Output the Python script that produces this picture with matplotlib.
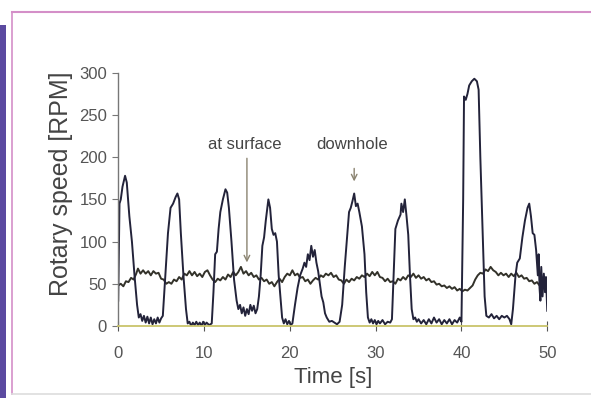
import matplotlib
matplotlib.use("Agg")
import matplotlib.pyplot as plt
from matplotlib.lines import Line2D
from matplotlib.patches import Rectangle

plt.rcParams["font.family"] = ["Liberation Sans", "DejaVu Sans"]

# downhole rotary speed (RPM)
t_down = [
    0.0, 0.15, 0.3, 0.5, 0.8, 1.0, 1.3, 1.6, 1.9, 2.2, 2.4, 2.6, 2.8, 3.0, 3.2,
    3.4, 3.6, 3.8, 4.0, 4.2, 4.4, 4.6, 4.8, 5.0, 5.2, 5.5, 5.8, 6.1, 6.4, 6.7,
    6.9, 7.1, 7.3, 7.6, 7.9, 8.1, 8.3, 8.5, 8.7, 8.9, 9.1, 9.3, 9.5, 9.7, 9.9,
    10.1, 10.3, 10.6, 10.9, 11.1, 11.3, 11.5, 11.7, 11.9, 12.2, 12.5, 12.7, 12.9,
    13.2, 13.5, 13.8, 14.0, 14.2, 14.4, 14.6, 14.8, 15.0, 15.2, 15.4, 15.6, 15.8,
    16.0, 16.2, 16.4, 16.6, 16.8, 17.0, 17.2, 17.5, 17.7, 17.9, 18.1, 18.3, 18.5,
    18.7, 18.9, 19.1, 19.3, 19.5, 19.7, 19.9, 20.1, 20.3, 20.6, 20.9, 21.2, 21.5,
    21.7, 21.9, 22.1, 22.3, 22.5, 22.7, 22.9, 23.1, 23.3, 23.5, 23.7, 23.9, 24.1,
    24.3, 24.6, 24.9, 25.2, 25.5, 25.8, 26.1, 26.4, 26.7, 26.9, 27.1, 27.3, 27.5,
    27.7, 27.9, 28.1, 28.4, 28.7, 28.9, 29.1, 29.3, 29.5, 29.7, 29.9, 30.1, 30.3,
    30.5, 30.8, 31.1, 31.4, 31.7, 31.9, 32.1, 32.3, 32.6, 32.9, 33.0, 33.2, 33.4,
    33.6, 33.8, 34.0, 34.2, 34.4, 34.6, 34.8, 35.0, 35.3, 35.6, 35.9, 36.2, 36.5,
    36.8, 37.1, 37.4, 37.7, 38.0, 38.3, 38.6, 38.9, 39.2, 39.5, 39.8, 40.0, 40.2,
    40.3, 40.5, 40.7, 40.9, 41.2, 41.5, 41.8, 42.0, 42.2, 42.5, 42.7, 42.9, 43.2,
    43.5, 43.8, 44.1, 44.4, 44.7, 45.0, 45.3, 45.6, 45.8, 46.0, 46.3, 46.5, 46.8,
    47.1, 47.4, 47.7, 47.9, 48.1, 48.3, 48.5, 48.7, 48.9, 49.0, 49.1, 49.2, 49.3,
    49.45, 49.6, 49.75, 49.85, 50.0,
]
rpm_down = [
    30, 145, 150, 165, 178, 170, 130, 100, 60, 25, 10, 14, 6, 12, 4,
    11, 3, 10, 2, 8, 3, 10, 4, 9, 12, 60, 110, 140, 145, 153,
    157, 150, 110, 60, 20, 3, 5, 0, 4, 1, 5, 1, 4, 0, 5,
    1, 4, 1, 3, 40, 85, 88, 115, 135, 150, 162, 158, 140,
    100, 55, 30, 20, 25, 15, 22, 12, 20, 14, 25, 18, 24,
    15, 20, 35, 60, 95, 105, 125, 150, 140, 115, 108, 110, 100,
    60, 35, 10, 3, 8, 2, 6, 1, 3, 25, 45, 60, 68,
    75, 70, 85, 78, 95, 82, 90, 75, 65, 50, 35, 28, 15,
    10, 5, 6, 4, 2, 5, 25, 70, 110, 135, 140, 148, 157,
    142, 145, 135, 118, 85, 40, 10, 4, 8, 3, 7, 2, 6,
    3, 7, 2, 5, 4, 8, 60, 115, 125, 132, 145, 135, 150,
    130, 108, 60, 20, 8, 10, 5, 8, 3, 7, 2, 8, 3,
    10, 4, 8, 2, 7, 3, 8, 2, 7, 4, 10, 5, 150,
    272, 268, 275, 285, 290, 293, 290, 280, 200, 100, 35, 12, 10,
    14, 9, 12, 8, 12, 10, 12, 8, 2, 20, 60, 75, 80,
    105, 125, 140, 145, 130, 110, 108, 90, 60, 85, 45, 30, 70,
    35, 62, 40, 58, 18,
]

# rotary speed at surface (RPM)
t_surf = [
    0.0, 0.3, 0.6, 0.9, 1.2, 1.5, 1.8, 2.1, 2.3, 2.6, 2.9, 3.2, 3.5, 3.8, 4.1,
    4.4, 4.7, 5.0, 5.3, 5.6, 5.9, 6.2, 6.5, 6.8, 7.1, 7.4, 7.7, 8.0, 8.3, 8.6,
    8.9, 9.2, 9.5, 9.8, 10.1, 10.4, 10.7, 11.0, 11.3, 11.6, 11.9, 12.2, 12.5,
    12.8, 13.1, 13.4, 13.7, 14.0, 14.3, 14.6, 14.9, 15.2, 15.5, 15.8, 16.1, 16.4,
    16.7, 17.0, 17.3, 17.6, 17.9, 18.2, 18.5, 18.8, 19.1, 19.4, 19.7, 20.0, 20.3,
    20.6, 20.9, 21.2, 21.5, 21.8, 22.1, 22.4, 22.7, 23.0, 23.3, 23.6, 23.9, 24.2,
    24.5, 24.8, 25.1, 25.4, 25.7, 26.0, 26.3, 26.6, 26.9, 27.2, 27.5, 27.8, 28.1,
    28.4, 28.7, 29.0, 29.3, 29.6, 29.9, 30.2, 30.5, 30.8, 31.1, 31.4, 31.7, 32.0,
    32.3, 32.6, 32.9, 33.2, 33.5, 33.8, 34.1, 34.4, 34.7, 35.0, 35.3, 35.6, 35.9,
    36.2, 36.5, 36.8, 37.1, 37.4, 37.7, 38.0, 38.3, 38.6, 38.9, 39.2, 39.5, 39.8,
    40.1, 40.4, 40.7, 41.0, 41.3, 41.6, 41.9, 42.2, 42.5, 42.8, 43.1, 43.4, 43.7,
    44.0, 44.3, 44.6, 44.9, 45.2, 45.5, 45.8, 46.1, 46.4, 46.7, 47.0, 47.3, 47.6,
    47.9, 48.2, 48.5, 48.8, 49.1, 49.4, 49.7, 50.0,
]
rpm_surf = [
    48, 50, 47, 53, 52, 57, 55, 62, 68, 62, 66, 62, 65, 60, 65,
    62, 63, 56, 55, 50, 52, 50, 55, 53, 58, 55, 62, 60, 65, 60,
    64, 59, 62, 58, 64, 66, 60, 55, 52, 56, 54, 58, 55,
    61, 58, 64, 60, 64, 70, 62, 65, 60, 63, 58, 60, 55,
    57, 53, 55, 50, 52, 47, 52, 56, 52, 58, 62, 60, 66,
    60, 62, 57, 58, 53, 55, 50, 54, 57, 55, 60, 58, 62,
    60, 63, 58, 60, 55, 54, 50, 55, 52, 56, 54, 58, 56,
    60, 58, 62, 59, 64, 60, 64, 58, 57, 53, 56, 52, 53,
    50, 56, 54, 58, 55, 60, 58, 62, 57, 60, 56, 58, 54,
    56, 52, 53, 49, 50, 47, 48, 45, 47, 44, 46, 42, 44,
    41, 43, 42, 45, 48, 55, 60, 63, 62, 67, 65, 70, 66,
    64, 60, 63, 60, 62, 58, 62, 59, 63, 58, 60, 56, 57,
    53, 54, 50, 52, 48, 53, 55, 57,
]

x_ticks = [0, 10, 20, 30, 40, 50]
y_ticks = [0, 50, 100, 150, 200, 250, 300]

fig = plt.figure(figsize=(5.91, 3.98), dpi=100)
ax = fig.add_axes([0.2, 0.181, 0.726, 0.636])

ax.plot(t_surf, rpm_surf, color="#33322a", lw=1.4)
ax.plot(t_down, rpm_down, color="#23233a", lw=1.4)

ax.set_xlim(0, 50)
ax.set_ylim(0, 300)
ax.set_xticks(x_ticks)
ax.set_yticks(y_ticks)
for s in ["top", "right"]:
    ax.spines[s].set_visible(False)
ax.spines["left"].set_color("#777777")
ax.spines["bottom"].set_color("#c9c46a")
ax.spines["left"].set_linewidth(1.0)
ax.spines["bottom"].set_linewidth(1.3)
ax.tick_params(axis="x", direction="inout", length=7, color="#555555",
               labelsize=12, labelcolor="#555555", pad=11)
ax.tick_params(axis="y", direction="out", length=4, color="#777777",
               labelsize=12, labelcolor="#555555", pad=4)
ax.set_ylabel("Rotary speed [RPM]", fontsize=18, color="#444444")
ax.yaxis.set_label_coords(-0.105, 0.56)
ax.set_xlabel("Time [s]", fontsize=16, color="#444444", labelpad=4)

arrow_kw = dict(arrowstyle="->", color="#8a8370", lw=1.0)
ax.annotate("", xy=(15.0, 72), xytext=(15.0, 202), arrowprops=arrow_kw)
ax.text(14.7, 206, "at surface", ha="center", va="bottom", fontsize=12,
        color="#444444")
ax.annotate("", xy=(27.5, 168), xytext=(27.5, 190), arrowprops=arrow_kw)
ax.text(27.3, 206, "downhole", ha="center", va="bottom", fontsize=12,
        color="#444444")

# scan frame
fig.add_artist(Line2D([12 / 591, 1], [1 - 12 / 398] * 2, color="#d48fc8", lw=1.5))
fig.add_artist(Line2D([12 / 591] * 2, [0.01, 1 - 12 / 398], color="#d48fc8", lw=1.2))
fig.add_artist(Rectangle((0, 0), 6 / 591, 1 - 25 / 398, color="#5b4aa0", lw=0))
fig.add_artist(Line2D([12 / 591, 1], [0.01, 0.01], color="#dddddd", lw=1.2))

fig.savefig("out.png", dpi=100)
